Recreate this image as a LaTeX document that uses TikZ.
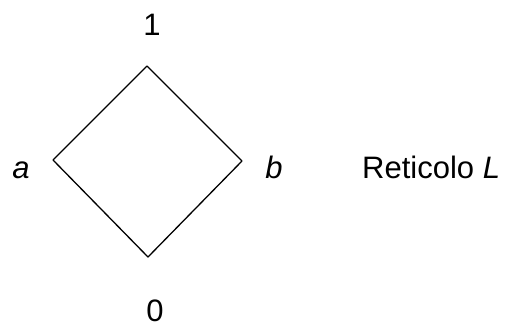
\documentclass[tikz,border=0pt]{standalone}
\usepackage{fontspec}
\setmainfont{Liberation Sans}
\begin{document}
\begin{tikzpicture}[x=1pt,y=-1pt,
  lbl/.style={inner sep=0pt,font=\fontsize{31}{34}\selectfont,anchor=base},
  edge/.style={line width=1.3pt,line join=round}]
\useasboundingbox (0,0) rectangle (507,327);
\coordinate (top) at (147,66);
\coordinate (lft) at (53,160);
\coordinate (rgt) at (242,161);
\coordinate (bot) at (148,257);
\draw[edge] (top) -- (rgt) -- (bot) -- (lft) -- cycle;
\node[lbl] (one) at (152,35) {1};
\node[lbl] (zero) at (155,321) {0};
\node[lbl] (a) at (21,178) {\itshape a};
\node[lbl] (b) at (274,178) {\itshape b};
\node[lbl,anchor=base west] (ret) at (362,178) {Reticolo \itshape L};
\end{tikzpicture}
\end{document}
